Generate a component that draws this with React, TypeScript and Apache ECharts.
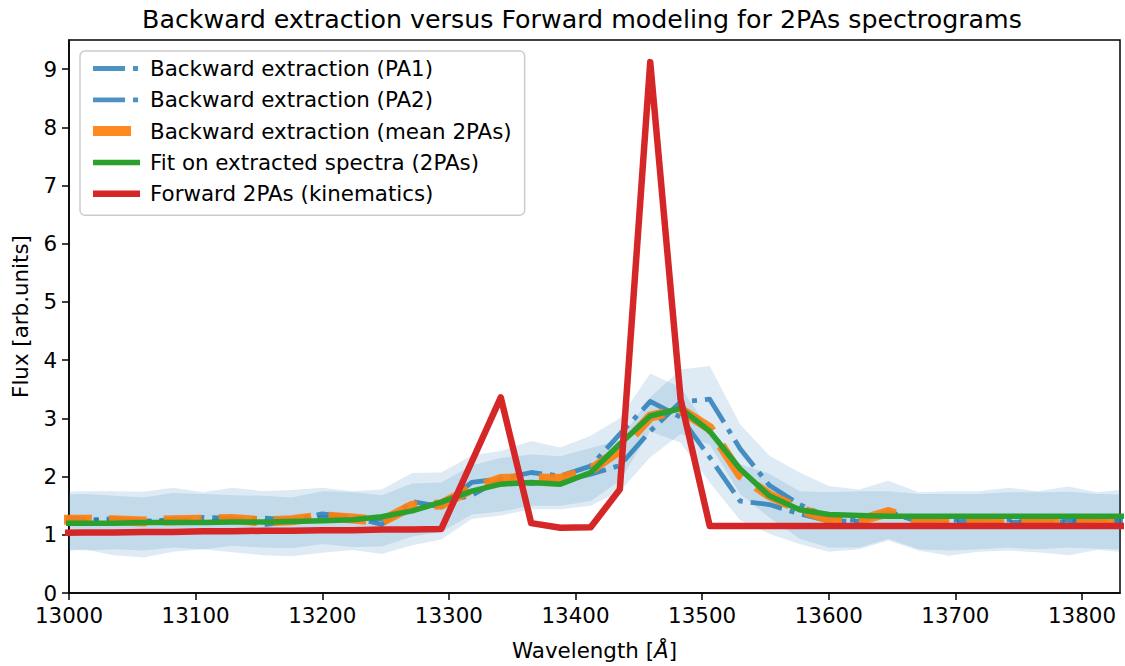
import React, { useEffect, useRef } from "react";
import * as echarts from "echarts";

const FONT = "DejaVu Sans";
const TITLE = "Backward extraction versus Forward modeling for 2PAs spectrograms";

const wavelengths = [
  12988, 13012, 13035, 13059, 13082, 13106, 13129, 13153, 13176, 13200, 13224, 13247, 13271,
  13294, 13318, 13341, 13365, 13388, 13412, 13435, 13459, 13483, 13506, 13530, 13553, 13577,
  13600, 13624, 13647, 13671, 13695, 13718, 13742, 13765, 13789, 13812, 13836,
];

const pa1 = [
  1.30, 1.27, 1.23, 1.24, 1.22, 1.30, 1.28, 1.17, 1.24, 1.36, 1.30, 1.18, 1.57,
  1.48, 1.90, 1.96, 2.07, 2.01, 2.18, 2.73, 3.29, 3.02, 2.33, 1.58, 1.52, 1.36,
  1.24, 1.23, 1.40, 1.22, 1.22, 1.24, 1.21, 1.23, 1.25, 1.22, 1.24,
];
const pa2 = [
  1.22, 1.24, 1.28, 1.21, 1.27, 1.22, 1.25, 1.29, 1.25, 1.29, 1.25, 1.28, 1.42,
  1.56, 1.68, 1.95, 1.88, 1.92, 2.04, 2.19, 2.78, 3.28, 3.33, 2.48, 1.85, 1.52,
  1.30, 1.24, 1.38, 1.24, 1.26, 1.22, 1.26, 1.24, 1.22, 1.26, 1.23,
];
const meanPAs = [
  1.26, 1.26, 1.25, 1.23, 1.25, 1.26, 1.27, 1.23, 1.25, 1.32, 1.28, 1.23, 1.50,
  1.52, 1.79, 1.96, 1.97, 1.96, 2.11, 2.46, 3.03, 3.15, 2.83, 2.03, 1.68, 1.44,
  1.27, 1.24, 1.39, 1.23, 1.24, 1.23, 1.24, 1.24, 1.24, 1.24, 1.24,
];
const fitPAs = [
  1.20, 1.20, 1.20, 1.21, 1.21, 1.21, 1.22, 1.22, 1.23, 1.24, 1.26, 1.31, 1.41,
  1.56, 1.75, 1.87, 1.90, 1.87, 2.07, 2.56, 3.04, 3.17, 2.78, 2.13, 1.67, 1.43,
  1.35, 1.33, 1.32, 1.32, 1.32, 1.32, 1.32, 1.32, 1.32, 1.32, 1.32,
];
const forward = [
  1.03, 1.04, 1.04, 1.05, 1.05, 1.06, 1.06, 1.07, 1.07, 1.08, 1.08, 1.09, 1.09,
  1.10, 2.25, 3.36, 1.20, 1.12, 1.13, 1.78, 9.12, 3.33, 1.15, 1.15, 1.15, 1.15,
  1.15, 1.15, 1.15, 1.15, 1.15, 1.15, 1.15, 1.15, 1.15, 1.15, 1.15,
];

const bandPA1Upper = [
  1.74, 1.75, 1.75, 1.74, 1.81, 1.73, 1.81, 1.75, 1.77, 1.81, 1.75, 1.78, 2.06,
  2.07, 2.36, 2.44, 2.61, 2.50, 2.70, 3.00, 3.77, 3.53, 2.80, 2.21, 2.05, 1.75,
  1.73, 1.75, 1.75, 1.70, 1.70, 1.70, 1.73, 1.73, 1.74, 1.70, 1.69,
];
const bandPA1Lower = [
  0.75, 0.73, 0.75, 0.73, 0.78, 0.75, 0.81, 0.78, 0.77, 0.84, 0.79, 0.80, 0.97,
  1.05, 1.35, 1.40, 1.50, 1.50, 1.58, 1.93, 2.78, 2.58, 1.90, 1.25, 1.02, 0.84,
  0.71, 0.75, 0.90, 0.73, 0.64, 0.71, 0.73, 0.70, 0.65, 0.74, 0.71,
];
const bandPA2Upper = [
  1.69, 1.70, 1.67, 1.64, 1.72, 1.70, 1.68, 1.67, 1.64, 1.75, 1.73, 1.68, 1.88,
  1.90, 2.19, 2.32, 2.38, 2.35, 2.49, 2.63, 3.36, 3.84, 3.90, 2.90, 2.36, 2.07,
  1.84, 1.78, 1.93, 1.73, 1.75, 1.75, 1.81, 1.75, 1.83, 1.73, 1.77,
];
const bandPA2Lower = [
  0.72, 0.75, 0.65, 0.61, 0.71, 0.75, 0.70, 0.65, 0.63, 0.69, 0.74, 0.67, 0.82,
  0.92, 1.27, 1.33, 1.44, 1.44, 1.50, 1.75, 2.33, 2.73, 2.55, 1.70, 1.30, 0.93,
  0.78, 0.78, 0.93, 0.75, 0.73, 0.75, 0.78, 0.75, 0.78, 0.76, 0.75,
];

const xTicks = [13000, 13100, 13200, 13300, 13400, 13500, 13600, 13700, 13800];
const yTicks = [0, 1, 2, 3, 4, 5, 6, 7, 8, 9];

const names = [
  "Backward extraction (PA1)",
  "Backward extraction (PA2)",
  "Backward extraction (mean 2PAs)",
  "Fit on extracted spectra (2PAs)",
  "Forward 2PAs (kinematics)",
];

const pairs = (ys: number[]) => wavelengths.map((w, i) => [w, ys[i]]);

function bandSeries(upper: number[], lower: number[]) {
  return {
    type: "custom",
    silent: true,
    clip: true,
    z: 1,
    data: [[13400, 1]],
    renderItem: (params: any, api: any) => {
      const pts: number[][] = [];
      for (let i = 0; i < wavelengths.length; i++) pts.push(api.coord([wavelengths[i], upper[i]]));
      for (let i = wavelengths.length - 1; i >= 0; i--) pts.push(api.coord([wavelengths[i], lower[i]]));
      const cs = params.coordSys;
      const clipped = echarts.graphic.clipPointsByRect(pts, {
        x: cs.x,
        y: cs.y,
        width: cs.width,
        height: cs.height,
      });
      return {
        type: "polygon",
        shape: { points: clipped },
        style: { fill: "rgba(31,119,180,0.15)", stroke: null, lineWidth: 0 },
      };
    },
  };
}

function lineSeries(name: string, ys: number[], color: string, width: number, type: any, z: number) {
  return {
    name,
    type: "line",
    data: pairs(ys),
    symbol: "none",
    showSymbol: false,
    z,
    itemStyle: { color },
    lineStyle: { color, width, type, cap: "butt", join: "round" },
  };
}

export default function App() {
  const ref = useRef<HTMLDivElement>(null);

  useEffect(() => {
    if (!ref.current) return;
    const chart = echarts.init(ref.current, null, { renderer: "svg" });
    const axisLineStyle = { color: "#000", width: 1.5 };
    const labelStyle = { color: "#000", fontSize: 21.4, fontFamily: FONT };
    const option: any = {
      animation: false,
      backgroundColor: "#ffffff",
      grid: {
        left: 69,
        right: 5,
        top: 40,
        bottom: 72,
        show: true,
        borderColor: "#000",
        borderWidth: 1.5,
        backgroundColor: "transparent",
        containLabel: false,
      },
      graphic: [
        {
          type: "text",
          x: 582,
          y: 19,
          style: {
            text: TITLE,
            fill: "#000",
            fontSize: 25.3,
            fontFamily: FONT,
            align: "center",
            verticalAlign: "middle",
          },
        },
      ],
      legend: {
        data: names,
        orient: "vertical",
        left: 80,
        top: 51,
        itemWidth: 47,
        itemHeight: 14,
        itemGap: 10.3,
        padding: [7, 13, 11, 8],
        backgroundColor: "rgba(255,255,255,0.8)",
        borderColor: "#cccccc",
        borderWidth: 1.5,
        borderRadius: 5,
        selectedMode: false,
        itemStyle: { opacity: 0, borderWidth: 0 },
        lineStyle: { width: "inherit", type: "inherit", color: "inherit", cap: "butt" },
        textStyle: { color: "#000", fontSize: 21.4, fontFamily: FONT, lineHeight: 21, padding: [0, 0, 0, 5] },
      },
      xAxis: {
        type: "value",
        min: 13000,
        max: 13830,
        interval: 100,
        axisLine: { show: true, onZero: false, lineStyle: axisLineStyle },
        axisTick: { show: true, length: 7, lineStyle: axisLineStyle, customValues: xTicks },
        axisLabel: {
          ...labelStyle,
          margin: 12,
          customValues: xTicks,
          formatter: (v: number) => String(v),
        },
        splitLine: { show: false },
        name: "Wavelength [{i|Å}]",
        nameLocation: "middle",
        nameGap: 47,
        nameTextStyle: {
          ...labelStyle,
          rich: { i: { fontStyle: "italic", fontSize: 21.4, fontFamily: FONT, color: "#000" } },
        },
      },
      yAxis: {
        type: "value",
        min: 0,
        max: 9.5,
        interval: 1,
        axisLine: { show: true, onZero: false, lineStyle: axisLineStyle },
        axisTick: { show: true, length: 7, lineStyle: axisLineStyle, customValues: yTicks },
        axisLabel: {
          ...labelStyle,
          margin: 12,
          customValues: yTicks,
          formatter: (v: number) => String(v),
        },
        splitLine: { show: false },
        name: "Flux [arb.units]",
        nameLocation: "middle",
        nameGap: 38,
        nameRotate: 90,
        nameTextStyle: { ...labelStyle },
      },
      series: [
        bandSeries(bandPA1Upper, bandPA1Lower),
        bandSeries(bandPA2Upper, bandPA2Lower),
        lineSeries(names[0], pa1, "rgba(31,119,180,0.8)", 4.8, [32, 8, 5, 8], 2),
        lineSeries(names[1], pa2, "rgba(31,119,180,0.8)", 4.8, [32, 8, 5, 8], 3),
        lineSeries(names[2], meanPAs, "rgba(255,127,14,0.92)", 10, [38, 17], 4),
        lineSeries(names[3], fitPAs, "#2ca02c", 5.5, "solid", 5),
        lineSeries(names[4], forward, "#d62728", 6.5, "solid", 6),
      ],
    };
    chart.setOption(option);
    return () => chart.dispose();
  }, []);

  return (
    <div
      ref={ref}
      style={{ position: "absolute", left: 0, top: 0, width: 1125, height: 666, background: "#fff" }}
    />
  );
}
